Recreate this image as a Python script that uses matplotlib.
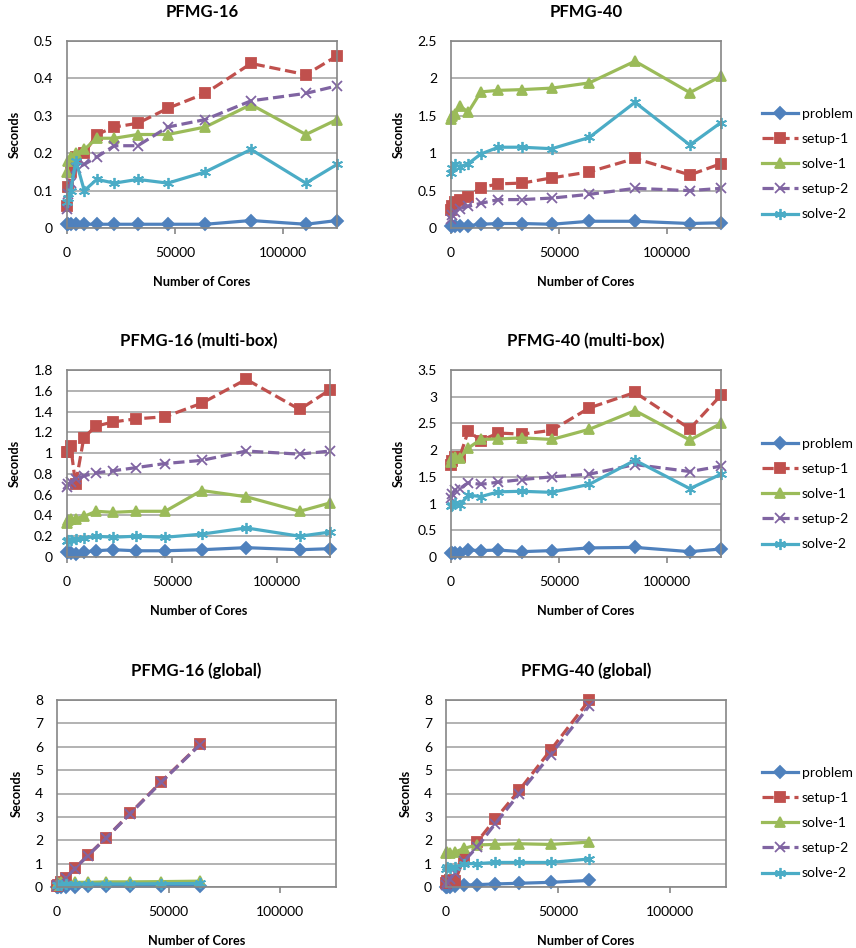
import matplotlib
matplotlib.use("Agg")
import matplotlib.pyplot as plt

plt.rcParams['font.family'] = ['Lato', 'DejaVu Sans']

W, H = 856, 948

cores = [1, 512, 1728, 4096, 8000, 13824, 21952, 32768, 46656, 64000, 85184, 110592, 125000]
cores_global = cores[:10]

series_names = ['problem', 'setup-1', 'solve-1', 'setup-2', 'solve-2']

# PFMG-16
p16_problem = [0.01, 0.01, 0.01, 0.01, 0.01, 0.01, 0.01, 0.01, 0.01, 0.01, 0.02, 0.01, 0.02]
p16_setup1 = [0.06, 0.11, 0.15, 0.19, 0.20, 0.25, 0.27, 0.28, 0.32, 0.36, 0.44, 0.41, 0.46]
p16_solve1 = [0.15, 0.18, 0.19, 0.20, 0.21, 0.24, 0.24, 0.25, 0.25, 0.27, 0.33, 0.25, 0.29]
p16_setup2 = [0.05, 0.09, 0.12, 0.16, 0.17, 0.19, 0.22, 0.22, 0.27, 0.29, 0.34, 0.36, 0.38]
p16_solve2 = [0.07, 0.08, 0.10, 0.18, 0.10, 0.13, 0.12, 0.13, 0.12, 0.15, 0.21, 0.12, 0.17]

# PFMG-40
p40_problem = [0.03, 0.03, 0.03, 0.03, 0.03, 0.05, 0.06, 0.06, 0.05, 0.09, 0.09, 0.06, 0.07]
p40_setup1 = [0.24, 0.30, 0.35, 0.38, 0.42, 0.54, 0.59, 0.60, 0.67, 0.75, 0.93, 0.71, 0.86]
p40_solve1 = [1.46, 1.50, 1.52, 1.63, 1.55, 1.82, 1.84, 1.85, 1.87, 1.94, 2.23, 1.81, 2.03]
p40_setup2 = [0.12, 0.18, 0.22, 0.26, 0.29, 0.33, 0.38, 0.38, 0.40, 0.45, 0.53, 0.50, 0.53]
p40_solve2 = [0.73, 0.80, 0.85, 0.82, 0.86, 0.99, 1.08, 1.08, 1.06, 1.21, 1.68, 1.11, 1.41]

# PFMG-16 (multi-box)
p16m_problem = [0.05, 0.05, 0.04, 0.03, 0.05, 0.06, 0.07, 0.06, 0.06, 0.07, 0.09, 0.07, 0.08]
p16m_setup1 = [1.01, 1.01, 1.07, 0.70, 1.15, 1.26, 1.30, 1.33, 1.35, 1.48, 1.71, 1.42, 1.61]
p16m_solve1 = [0.33, 0.36, 0.37, 0.37, 0.39, 0.44, 0.43, 0.44, 0.44, 0.64, 0.58, 0.44, 0.52]
p16m_setup2 = [0.67, 0.70, 0.72, 0.75, 0.78, 0.81, 0.83, 0.86, 0.90, 0.93, 1.02, 0.99, 1.02]
p16m_solve2 = [0.15, 0.16, 0.16, 0.17, 0.18, 0.20, 0.19, 0.20, 0.19, 0.22, 0.28, 0.20, 0.24]

# PFMG-40 (multi-box)
p40m_problem = [0.08, 0.08, 0.08, 0.07, 0.13, 0.12, 0.13, 0.10, 0.12, 0.17, 0.18, 0.10, 0.15]
p40m_setup1 = [1.73, 1.80, 1.88, 1.88, 2.36, 2.18, 2.32, 2.30, 2.37, 2.79, 3.08, 2.40, 3.03]
p40m_solve1 = [1.78, 1.85, 1.88, 1.85, 2.04, 2.20, 2.21, 2.23, 2.20, 2.39, 2.74, 2.19, 2.50]
p40m_setup2 = [1.10, 1.18, 1.25, 1.28, 1.39, 1.36, 1.40, 1.45, 1.50, 1.55, 1.73, 1.60, 1.70]
p40m_solve2 = [0.95, 0.98, 1.02, 0.97, 1.16, 1.13, 1.22, 1.23, 1.21, 1.36, 1.81, 1.28, 1.55]

# PFMG-16 (global)
p16g_problem = [0.01, 0.01, 0.01, 0.02, 0.02, 0.03, 0.03, 0.04, 0.04, 0.05]
p16g_setup1 = [0.05, 0.10, 0.20, 0.40, 0.80, 1.35, 2.10, 3.15, 4.50, 6.10]
p16g_solve1 = [0.10, 0.15, 0.20, 0.20, 0.20, 0.20, 0.22, 0.22, 0.23, 0.25]
p16g_setup2 = [0.04, 0.09, 0.19, 0.39, 0.79, 1.34, 2.09, 3.13, 4.48, 6.08]
p16g_solve2 = [0.10, 0.10, 0.10, 0.12, 0.12, 0.13, 0.13, 0.13, 0.14, 0.15]

# PFMG-40 (global)
p40g_problem = [0.02, 0.02, 0.02, 0.03, 0.08, 0.10, 0.13, 0.16, 0.20, 0.28]
p40g_setup1 = [0.15, 0.25, 0.28, 0.25, 1.25, 1.93, 2.90, 4.15, 5.85, 8.00]
p40g_solve1 = [1.45, 1.50, 1.45, 1.50, 1.65, 1.80, 1.82, 1.85, 1.82, 1.92]
p40g_setup2 = [0.10, 0.20, 0.35, 0.60, 1.10, 1.70, 2.70, 4.00, 5.65, 7.75]
p40g_solve2 = [0.75, 0.85, 0.80, 0.85, 1.00, 1.00, 1.05, 1.05, 1.05, 1.20]

colors = ['#4F81BD', '#C0504D', '#9BBB59', '#8064A2', '#4BACC6']
markers = ['D', 's', '^', 'x', (6, 2, 0)]
msizes = [6, 7.5, 7.5, 7, 8]
styles = ['-', (0, (3.5, 1.5)), '-', (0, (3.5, 1.5)), '-']

# title, x, series, ylim, ytick step, axes box in pixels (left, top, right, bottom)
panels = [
    ('PFMG-16', cores, [p16_problem, p16_setup1, p16_solve1, p16_setup2, p16_solve2],
     0.5, 0.1, (67, 41, 337, 228)),
    ('PFMG-40', cores, [p40_problem, p40_setup1, p40_solve1, p40_setup2, p40_solve2],
     2.5, 0.5, (451, 41, 721, 228)),
    ('PFMG-16 (multi-box)', cores, [p16m_problem, p16m_setup1, p16m_solve1, p16m_setup2, p16m_solve2],
     1.8, 0.2, (67, 370, 330, 557)),
    ('PFMG-40 (multi-box)', cores, [p40m_problem, p40m_setup1, p40m_solve1, p40m_setup2, p40m_solve2],
     3.5, 0.5, (451, 370, 721, 557)),
    ('PFMG-16 (global)', cores_global, [p16g_problem, p16g_setup1, p16g_solve1, p16g_setup2, p16g_solve2],
     8, 1, (57, 700, 336, 887)),
    ('PFMG-40 (global)', cores_global, [p40g_problem, p40g_setup1, p40g_solve1, p40g_setup2, p40g_solve2],
     8, 1, (446, 700, 726, 887)),
]

legend_pos = [(762, 164), (762, 494), (762, 823)]

fig = plt.figure(figsize=(W / 100, H / 100), dpi=100)

for i, (title, xs, data, ymax, step, box) in enumerate(panels):
    l, t, r, b = box
    ax = fig.add_axes([l / W, 1 - b / H, (r - l) / W, (b - t) / H])
    handles = []
    for k, ys in enumerate(data):
        h, = ax.plot(xs, ys, color=colors[k], linestyle=styles[k], linewidth=2.3,
                     marker=markers[k], markersize=msizes[k], markeredgewidth=1.3,
                     markeredgecolor=colors[k], label=series_names[k], clip_on=False)
        handles.append(h)
    ax.set_xlim(0, 125000)
    ax.set_ylim(0, ymax)
    n = int(round(ymax / step))
    yt = [step * j for j in range(n + 1)]
    ax.set_yticks(yt)
    ax.set_yticklabels(['{:g}'.format(round(v, 2)) for v in yt])
    ax.set_xticks([0, 50000, 100000])
    ax.set_xticklabels(['0', '50000', '100000'])
    ax.yaxis.grid(True, color='#A6A6A6', linewidth=1.2)
    ax.set_axisbelow(True)
    for s in ax.spines.values():
        s.set_color('#868686')
        s.set_linewidth(1.2)
    ax.tick_params(axis='y', length=0, pad=10, labelsize=10)
    ax.tick_params(axis='x', length=4, color='#868686', width=1.2, pad=10, labelsize=10)
    ax.set_title(title, fontsize=12, fontweight='bold', pad=17)
    ax.set_xlabel('Number of Cores', fontsize=9.2, fontweight='bold', labelpad=12)
    ax.set_ylabel('Seconds', fontsize=9.2, fontweight='bold', labelpad=9)

    if i % 2 == 1:
        lx, ly = legend_pos[i // 2]
        fig.legend(handles=handles, loc='center left',
                   bbox_to_anchor=(lx / W, 1 - ly / H), frameon=False,
                   fontsize=10, handlelength=2.6, handletextpad=0.25,
                   labelspacing=0.95, borderaxespad=0, borderpad=0)

fig.savefig('out.png', dpi=100)
